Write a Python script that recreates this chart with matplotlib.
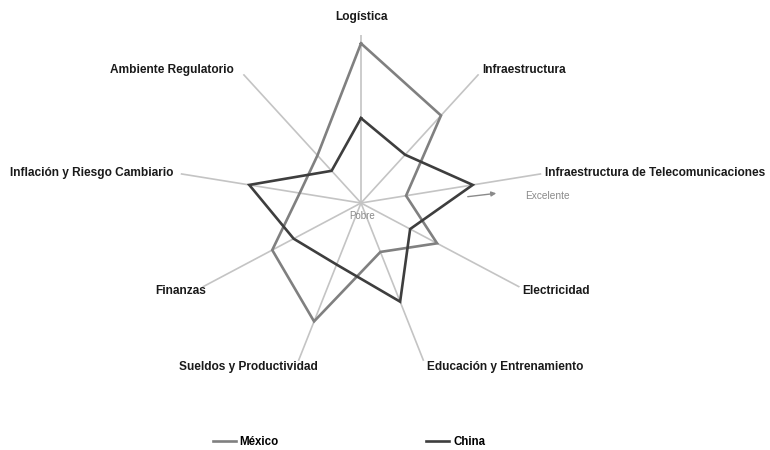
import numpy as np
import matplotlib
matplotlib.use("Agg")
import matplotlib.pyplot as plt

categories = ["Logística", "Infraestructura", "Infraestructura de Telecomunicaciones",
              "Electricidad", "Educación y Entrenamiento", "Sueldos y Productividad",
              "Finanzas", "Inflación y Riesgo Cambiario", "Ambiente Regulatorio"]
angles_deg = [90, 50, 10, -30, -70, -110, -150, 170, 130]
mexico = [9.5, 6.8, 2.5, 4.8, 3.1, 7.5, 5.6, 3.4, 3.7]
china = [5.05, 3.75, 6.2, 3.1, 6.25, 3.9, 4.25, 6.2, 2.5]
axis_max = 10

plt.rcParams['font.family'] = ['Liberation Sans', 'DejaVu Sans']

W, H = 770, 450
fig = plt.figure(figsize=(7.7, 4.5), dpi=100)
cx, cy, Rx, Ry = 361, 203, 183, 168
ax = fig.add_axes([(cx - Rx) / W, 1 - (cy + Ry) / H, 2 * Rx / W, 2 * Ry / H], projection='polar')
ax.set_aspect('auto')
ax.set_ylim(0, axis_max)
ax.grid(False)
ax.spines['polar'].set_visible(False)
ax.set_xticks([])
ax.set_yticks([])
ax.patch.set_alpha(0)

th = np.deg2rad(angles_deg)
for t in th:
    ax.plot([t, t], [0, axis_max], color='#c4c4c4', lw=1.2, zorder=1)

def closed(v):
    return np.append(th, th[0]), np.append(v, v[0])

tm, vm = closed(mexico)
tc, vc = closed(china)
l1, = ax.plot(tm, vm, color='#808080', lw=1.9, zorder=3, label='México', solid_joinstyle='miter')
l2, = ax.plot(tc, vc, color='#3e3e3e', lw=1.9, zorder=4, label='China', solid_joinstyle='miter')

label_pos = [
    (361, 17, 'center'), (482, 70, 'left'), (545, 173, 'left'), (522, 291, 'left'),
    (427, 367, 'left'), (318, 367, 'right'), (206, 291, 'right'), (173, 173, 'right'),
    (234, 70, 'right')]
for name, (px, py, ha) in zip(categories, label_pos):
    fig.text(px / W, 1 - py / H, name, ha=ha, va='center', fontsize=8.6,
             fontweight='bold', color='#1a1a1a')

fig.text(362 / W, 1 - 216 / H, 'Pobre', ha='center', va='center', fontsize=7, color='#8a8a8a')
fig.text(525 / W, 1 - 196 / H, 'Excelente', ha='left', va='center', fontsize=7.3, color='#8a8a8a')
ax.annotate('', xy=(499 / W, 1 - 193 / H), xytext=(465 / W, 1 - 197 / H),
            xycoords='figure fraction', textcoords='figure fraction',
            arrowprops=dict(arrowstyle='-|>', color='#8a8a8a', lw=1.0, mutation_scale=7))

fig.legend(handles=[l1, l2], loc='center', bbox_to_anchor=(349 / W, 1 - 442 / H),
           ncol=2, frameon=False, handlelength=2.0, handletextpad=0.35,
           columnspacing=12.8, prop={'weight': 'bold', 'size': 8.3})

fig.savefig('out.png', dpi=100, facecolor='white')
